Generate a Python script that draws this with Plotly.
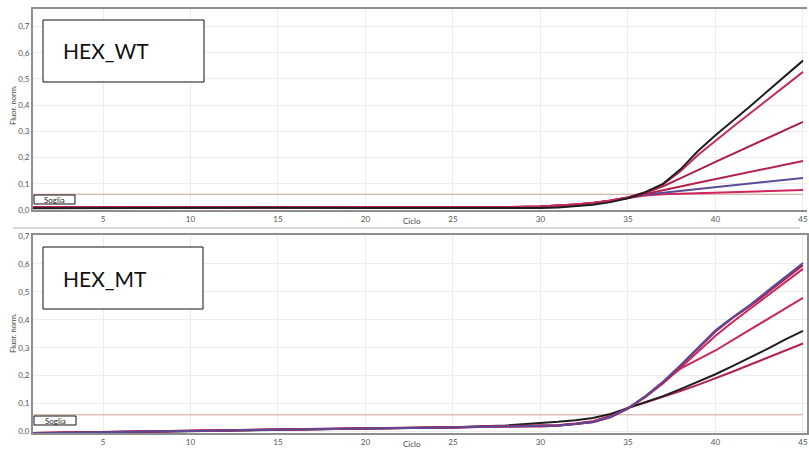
import plotly.graph_objects as go

W, H = 809, 449

# ---------------- data ----------------
cycles = [1, 5, 10, 15, 20, 25, 28, 30, 31, 32, 33, 34, 35, 36, 37, 38, 39, 40, 41, 42, 43, 44, 45]

wt_black  = [0.007, 0.008, 0.009, 0.009, 0.008, 0.007, 0.007, 0.008, 0.010, 0.014, 0.020, 0.030, 0.045,
             0.068, 0.100, 0.155, 0.225, 0.285, 0.340, 0.397, 0.455, 0.512, 0.570]
wt_red1   = [0.010, 0.010, 0.010, 0.011, 0.010, 0.009, 0.010, 0.013, 0.016, 0.021, 0.027, 0.036, 0.049,
             0.068, 0.098, 0.148, 0.210, 0.265, 0.318, 0.370, 0.422, 0.475, 0.527]
wt_red2   = [0.010, 0.010, 0.011, 0.010, 0.010, 0.009, 0.010, 0.013, 0.016, 0.021, 0.027, 0.036, 0.048,
             0.066, 0.090, 0.120, 0.152, 0.184, 0.215, 0.246, 0.276, 0.306, 0.336]
wt_red3   = [0.011, 0.011, 0.010, 0.010, 0.011, 0.010, 0.011, 0.013, 0.016, 0.021, 0.027, 0.035, 0.047,
             0.062, 0.076, 0.090, 0.104, 0.118, 0.132, 0.146, 0.160, 0.174, 0.187]
wt_purple = [0.009, 0.010, 0.010, 0.010, 0.010, 0.010, 0.010, 0.012, 0.015, 0.020, 0.026, 0.035, 0.047,
             0.058, 0.066, 0.073, 0.080, 0.087, 0.094, 0.101, 0.108, 0.115, 0.122]
wt_red4   = [0.011, 0.011, 0.011, 0.010, 0.010, 0.010, 0.011, 0.013, 0.016, 0.021, 0.027, 0.035, 0.046,
             0.055, 0.060, 0.062, 0.064, 0.066, 0.068, 0.070, 0.072, 0.074, 0.076]

mt_purple = [-0.006, -0.002, 0.003, 0.007, 0.011, 0.015, 0.018, 0.019, 0.022, 0.027, 0.034, 0.052, 0.083,
             0.127, 0.178, 0.237, 0.300, 0.362, 0.410, 0.454, 0.504, 0.552, 0.603]
mt_red1   = [-0.005, -0.002, 0.003, 0.007, 0.011, 0.015, 0.018, 0.018, 0.021, 0.026, 0.033, 0.051, 0.082,
             0.125, 0.176, 0.235, 0.297, 0.358, 0.407, 0.450, 0.498, 0.545, 0.595]
mt_red2   = [-0.006, -0.002, 0.003, 0.007, 0.011, 0.015, 0.018, 0.019, 0.022, 0.027, 0.035, 0.053, 0.083,
             0.124, 0.172, 0.228, 0.285, 0.343, 0.393, 0.440, 0.488, 0.536, 0.582]
mt_red3   = [-0.005, -0.001, 0.004, 0.008, 0.012, 0.016, 0.019, 0.020, 0.023, 0.028, 0.036, 0.054, 0.084,
             0.125, 0.177, 0.225, 0.258, 0.290, 0.328, 0.365, 0.403, 0.440, 0.478]
mt_black  = [-0.007, -0.003, 0.003, 0.007, 0.011, 0.016, 0.022, 0.030, 0.035, 0.041, 0.049, 0.063, 0.084,
             0.105, 0.127, 0.152, 0.178, 0.205, 0.235, 0.265, 0.297, 0.330, 0.360]
mt_red4   = [-0.005, -0.001, 0.004, 0.008, 0.012, 0.016, 0.019, 0.020, 0.023, 0.029, 0.037, 0.056, 0.085,
             0.104, 0.124, 0.145, 0.167, 0.190, 0.215, 0.240, 0.265, 0.290, 0.315]

threshold = 0.06
threshold_x = [1, 45]
x_ticks = [5, 10, 15, 20, 25, 30, 35, 40, 45]
y_ticks = [0.0, 0.1, 0.2, 0.3, 0.4, 0.5, 0.6, 0.7]
panel_names = ["HEX_WT", "HEX_MT"]

# ---------------- styles ----------------
BLACK = "#1e1e1e"
RED_A = "#b3214f"
RED_B = "#c72a5c"
RED_C = "#a81e46"
RED_D = "#d0245e"
PURPLE = "#5b4a98"
THR = "#c9a096"

def px(x):
    return x / W

def py(y):
    return 1 - y / H

fig = go.Figure()

wt_series = [(wt_red4, RED_D), (wt_purple, PURPLE), (wt_red3, RED_A), (wt_red2, RED_C),
             (wt_red1, RED_B), (wt_black, BLACK)]
mt_series = [(mt_red4, RED_A), (mt_black, BLACK), (mt_red3, RED_B), (mt_red2, RED_D),
             (mt_red1, RED_C), (mt_purple, PURPLE)]

for xa, ya, series in [("x", "y", wt_series), ("x2", "y2", mt_series)]:
    fig.add_trace(go.Scatter(x=threshold_x, y=[threshold, threshold], mode="lines",
                             line=dict(color=THR, width=1), xaxis=xa, yaxis=ya,
                             showlegend=False, hoverinfo="skip"))
    for vals, col in series:
        fig.add_trace(go.Scatter(x=cycles, y=vals, mode="lines",
                                 line=dict(color=col, width=2), xaxis=xa, yaxis=ya,
                                 showlegend=False))

TICKFONT = dict(family="Lato, Open Sans, sans-serif", size=8, color="#555555")
AXLINE = "#8e8e8e"
GRID = "#ececec"

xdom = [px(33), px(807)]
xaxis_common = dict(range=[1, 45.23], tickvals=x_ticks, showgrid=True, gridcolor=GRID,
                    gridwidth=1, zeroline=False, showline=True, linecolor=AXLINE,
                    linewidth=2, ticks="", tickfont=TICKFONT, domain=xdom, fixedrange=True)
yaxis_common = dict(tickvals=y_ticks, tickformat=".1f", showgrid=True, gridcolor=GRID,
                    gridwidth=1, zeroline=False, showline=True, linecolor=AXLINE,
                    linewidth=2, ticks="", tickfont=TICKFONT, fixedrange=True)

fig.update_layout(
    width=W, height=H,
    margin=dict(l=0, r=0, t=0, b=0, autoexpand=False),
    paper_bgcolor="white", plot_bgcolor="white",
    separators=",.",
    xaxis=dict(**xaxis_common, anchor="y", mirror=True),
    yaxis=dict(**yaxis_common, anchor="x", domain=[py(210), py(9)], range=[0, 0.767], mirror=False),
    xaxis2=dict(**xaxis_common, anchor="y2", mirror=True),
    yaxis2=dict(**yaxis_common, anchor="x2", domain=[py(433), py(235)], range=[-0.005, 0.703], mirror=True),
)

shapes = []
annotations = []

# separator between panels
shapes.append(dict(type="line", xref="paper", yref="paper", x0=px(13), x1=px(800),
                   y0=py(228), y1=py(228), line=dict(color="#c8c8c8", width=1.5)))

panels = [
    dict(name=panel_names[0], box=(43, 20, 204, 82), soglia=(34, 195, 75, 204), ytitle=105, ciclo=221),
    dict(name=panel_names[1], box=(43, 247, 203, 309), soglia=(34, 416, 76, 425), ytitle=333, ciclo=444),
]
for p in panels:
    x0, y0, x1, y1 = p["box"]
    shapes.append(dict(type="rect", xref="paper", yref="paper", x0=px(x0), x1=px(x1),
                       y0=py(y1), y1=py(y0), line=dict(color="#111111", width=1),
                       fillcolor="white", layer="above"))
    annotations.append(dict(xref="paper", yref="paper", x=px(61), y=py((y0 + y1) / 2),
                            xanchor="left", yanchor="middle", showarrow=False, text=p["name"],
                            font=dict(family="Lato, Open Sans, sans-serif", size=21, color="#111111")))
    sx0, sy0, sx1, sy1 = p["soglia"]
    shapes.append(dict(type="rect", xref="paper", yref="paper", x0=px(sx0), x1=px(sx1),
                       y0=py(sy1), y1=py(sy0), line=dict(color="#111111", width=1),
                       fillcolor="white", layer="above"))
    annotations.append(dict(xref="paper", yref="paper", x=px((sx0 + sx1) / 2), y=py((sy0 + sy1) / 2),
                            xanchor="center", yanchor="middle", showarrow=False, text="Soglia",
                            font=dict(family="Lato, Open Sans, sans-serif", size=8, color="#222222")))
    annotations.append(dict(xref="paper", yref="paper", x=px(13), y=py(p["ytitle"]),
                            xanchor="center", yanchor="middle", showarrow=False, text="Fluor. norm.",
                            textangle=-90,
                            font=dict(family="Lato, Open Sans, sans-serif", size=7.5, color="#444444")))
    annotations.append(dict(xref="paper", yref="paper", x=px(412), y=py(p["ciclo"]),
                            xanchor="center", yanchor="middle", showarrow=False, text="Ciclo",
                            font=dict(family="Lato, Open Sans, sans-serif", size=8, color="#444444")))

fig.update_layout(shapes=shapes, annotations=annotations)

fig.write_html("out.html", config={"displayModeBar": False},
               post_script="document.body.style.margin='0px';document.body.style.overflow='hidden';")
